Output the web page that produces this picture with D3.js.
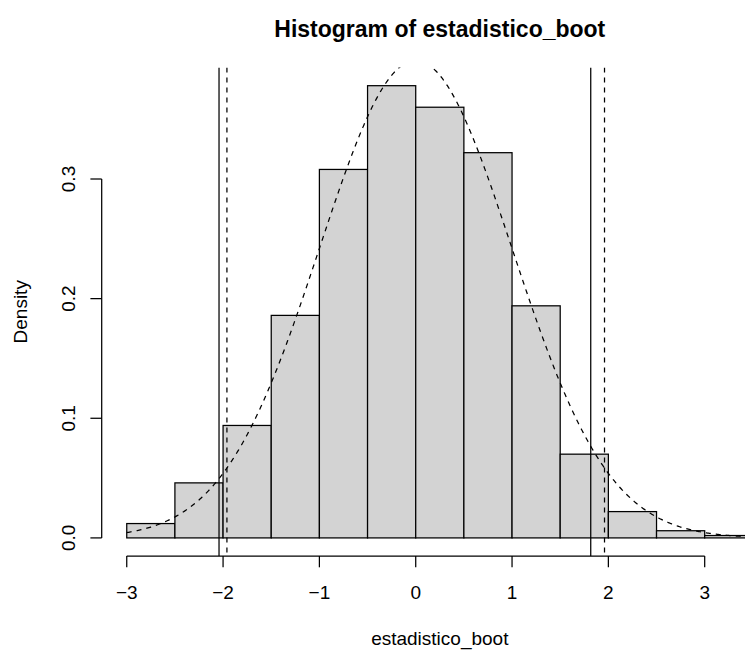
<!DOCTYPE html>
<html>
<head>
<meta charset="utf-8">
<script src="https://cdn.jsdelivr.net/npm/d3@7"></script>
<style>
  html, body { margin: 0; padding: 0; background: #ffffff; }
  svg { display: block; }
  text { font-family: "Liberation Sans", Arial, Helvetica, sans-serif; fill: #000; }
</style>
</head>
<body>
<svg id="chart" width="745" height="650"></svg>
<script>
// Bootstrap statistic histogram (bin width 0.5), densities per bin
const breaks = [-3, -2.5, -2, -1.5, -1, -0.5, 0, 0.5, 1, 1.5, 2, 2.5, 3, 3.5];
const densities = [0.012, 0.046, 0.094, 0.186, 0.308, 0.378, 0.360, 0.322, 0.194, 0.070, 0.022, 0.006, 0.002];

// Axis ticks
const xTicks = [-3, -2, -1, 0, 1, 2, 3];
const yTicks = [0, 0.1, 0.2, 0.3];

// Critical values: bootstrap percentiles (solid) and normal quantiles (dashed)
const bootCutoffs = [-2.042, 1.817];
const normalCutoffs = [-1.96, 1.96];

const titleText = "Histogram of estadistico_boot";
const xLabel = "estadistico_boot";
const yLabel = "Density";

const svg = d3.select("#chart");
const W = 745, H = 650;
svg.append("rect").attr("width", W).attr("height", H).attr("fill", "#fff");

// Plot region: axis limits padded by 4% like base graphics
const plot = { left: 101.7, right: 777.9, top: 67.6, bottom: 556 };
const xLo = breaks[0], xHi = breaks[breaks.length - 1];
const xPad = (xHi - xLo) * 0.04;
const yMax = d3.max(densities);
const yPad = yMax * 0.04;

const x = d3.scaleLinear().domain([xLo - xPad, xHi + xPad]).range([plot.left, plot.right]);
const y = d3.scaleLinear().domain([-yPad, yMax + yPad]).range([plot.bottom, plot.top]);

svg.append("defs").append("clipPath").attr("id", "plotClip")
  .append("rect")
  .attr("x", plot.left).attr("y", plot.top)
  .attr("width", plot.right - plot.left).attr("height", plot.bottom - plot.top);

const g = svg.append("g").attr("clip-path", "url(#plotClip)");

const LW = 1.25;

// Histogram bars
const bins = densities.map((d, i) => ({ x0: breaks[i], x1: breaks[i + 1], d }));
g.selectAll("rect.bar").data(bins).enter().append("rect")
  .attr("class", "bar")
  .attr("x", b => x(b.x0))
  .attr("y", b => y(b.d))
  .attr("width", b => x(b.x1) - x(b.x0))
  .attr("height", b => y(0) - y(b.d))
  .attr("fill", "#d3d3d3")
  .attr("stroke", "#000")
  .attr("stroke-width", LW);

// Standard normal density reference curve
const dnorm = v => Math.exp(-v * v / 2) / Math.sqrt(2 * Math.PI);
const curveXs = d3.range(breaks[0], xHi + xPad + 0.005, 0.01);
g.append("path")
  .datum(curveXs)
  .attr("d", d3.line().x(v => x(v)).y(v => y(dnorm(v))))
  .attr("fill", "none")
  .attr("stroke", "#000")
  .attr("stroke-width", LW)
  .attr("stroke-dasharray", "5,5");

// Vertical cutoff lines across the whole plot region
g.selectAll("line.boot").data(bootCutoffs).enter().append("line")
  .attr("x1", d => x(d)).attr("x2", d => x(d))
  .attr("y1", plot.top).attr("y2", plot.bottom)
  .attr("stroke", "#000").attr("stroke-width", LW);

g.selectAll("line.norm").data(normalCutoffs).enter().append("line")
  .attr("x1", d => x(d)).attr("x2", d => x(d))
  .attr("y1", plot.top).attr("y2", plot.bottom)
  .attr("stroke", "#000").attr("stroke-width", LW)
  .attr("stroke-dasharray", "5,5");

// Axes
const FS = 19;
const tickLen = 11.3;
const axisColor = "#000";

// x axis
const xAxis = svg.append("g");
xAxis.append("line")
  .attr("x1", x(xTicks[0])).attr("x2", x(xTicks[xTicks.length - 1]))
  .attr("y1", plot.bottom).attr("y2", plot.bottom)
  .attr("stroke", axisColor).attr("stroke-width", LW);
xAxis.selectAll("line.tick").data(xTicks).enter().append("line")
  .attr("x1", d => x(d)).attr("x2", d => x(d))
  .attr("y1", plot.bottom).attr("y2", plot.bottom + tickLen)
  .attr("stroke", axisColor).attr("stroke-width", LW);
xAxis.selectAll("text").data(xTicks).enter().append("text")
  .attr("x", d => x(d)).attr("y", 599.3)
  .attr("text-anchor", "middle")
  .attr("font-size", FS)
  .text(d => d < 0 ? "\u2212" + Math.abs(d) : String(d));

// y axis
const yAxis = svg.append("g");
yAxis.append("line")
  .attr("x1", plot.left).attr("x2", plot.left)
  .attr("y1", y(yTicks[0])).attr("y2", y(yTicks[yTicks.length - 1]))
  .attr("stroke", axisColor).attr("stroke-width", LW);
yAxis.selectAll("line.tick").data(yTicks).enter().append("line")
  .attr("x1", plot.left - tickLen).attr("x2", plot.left)
  .attr("y1", d => y(d)).attr("y2", d => y(d))
  .attr("stroke", axisColor).attr("stroke-width", LW);
yAxis.selectAll("text").data(yTicks).enter().append("text")
  .attr("transform", d => `translate(75,${y(d)}) rotate(-90)`)
  .attr("text-anchor", "middle")
  .attr("font-size", FS)
  .text(d => d3.format(".1f")(d));

// Titles
svg.append("text")
  .attr("x", (plot.left + plot.right) / 2).attr("y", 37)
  .attr("text-anchor", "middle")
  .attr("font-size", 23).attr("font-weight", "bold")
  .text(titleText);

svg.append("text")
  .attr("x", (plot.left + plot.right) / 2).attr("y", 645)
  .attr("text-anchor", "middle")
  .attr("font-size", FS)
  .text(xLabel);

svg.append("text")
  .attr("transform", `translate(27,${(plot.top + plot.bottom) / 2}) rotate(-90)`)
  .attr("text-anchor", "middle")
  .attr("font-size", FS)
  .text(yLabel);
</script>
</body>
</html>
